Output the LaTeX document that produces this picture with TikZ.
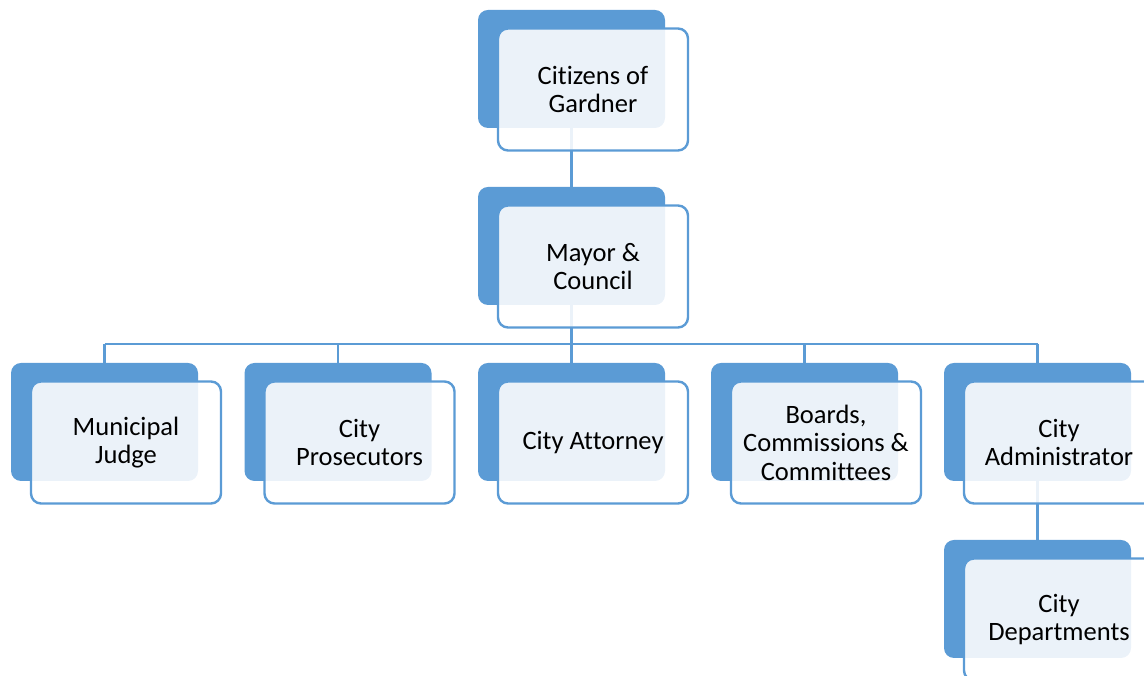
\documentclass[tikz,border=0pt]{standalone}
\usepackage{fontspec}
\setmainfont{Carlito}[Ligatures=NoCommon]
\usetikzlibrary{positioning}

\definecolor{boxBlue}{HTML}{5B9BD5}

\tikzset{
  backbox/.style={fill=boxBlue, rounded corners=10pt, minimum width=187pt,
    minimum height=118pt, inner sep=0pt},
  frontbox/.style={draw=boxBlue, line width=2.4pt, fill=white, fill opacity=0.88,
    text opacity=1, rounded corners=10pt, minimum width=190pt, minimum height=122pt,
    inner sep=0pt, align=center, xshift=21.5pt, yshift=-20.5pt,
    font=\fontsize{26.5}{28.5}\selectfont},
  link/.style={draw=boxBlue, line width=2.4pt},
}

\begin{document}
\begin{tikzpicture}[x=1pt, y=1pt]
    \useasboundingbox (0,0) rectangle (1144,676);
    \clip (0,0) rectangle (1144,676);

    % Back tiles
    \node[backbox] (citizensB) at (571.5,607) {};
    \node[backbox] (mayorB)    at (571.5,430) {};
    \node[backbox] (judgeB)    at (104.5,254) {};
    \node[backbox] (prosecB)   at (338,254) {};
    \node[backbox] (attorneyB) at (571.5,254) {};
    \node[backbox] (boardsB)   at (804.5,254) {};
    \node[backbox] (adminB)    at (1037.5,254) {};
    \node[backbox] (deptsB)    at (1037.5,77) {};

    % Connectors
    \coordinate (bus) at (571.5,332);
    \draw[link] (citizensB.south) -- (mayorB.north);
    \draw[link] (mayorB.south) -- (bus);
    \draw[link] (bus -| judgeB.north) -- (bus -| adminB.north);
    \foreach \n in {judgeB, prosecB, attorneyB, boardsB, adminB}
        \draw[link] (bus -| \n.north) -- (\n.north);
    \draw[link] (adminB.south) -- (deptsB.north);

    % Front tiles with the labels
    \node[frontbox] (citizens) at (citizensB) {Citizens of\\Gardner};
    \node[frontbox] (mayor)    at (mayorB)    {Mayor \&\\Council};
    \node[frontbox] (judge)    at (judgeB)    {Municipal\\Judge};
    \node[frontbox] (prosec)   at (prosecB)   {City\\Prosecutors};
    \node[frontbox] (attorney) at (attorneyB) {City Attorney};
    \node[frontbox] (boards)   at (boardsB)   {Boards,\\Commissions \&\\Committees};
    \node[frontbox] (admin)    at (adminB)    {City\\Administrator};
    \node[frontbox] (depts)    at (deptsB)    {City\\Departments};

\end{tikzpicture}
\end{document}
